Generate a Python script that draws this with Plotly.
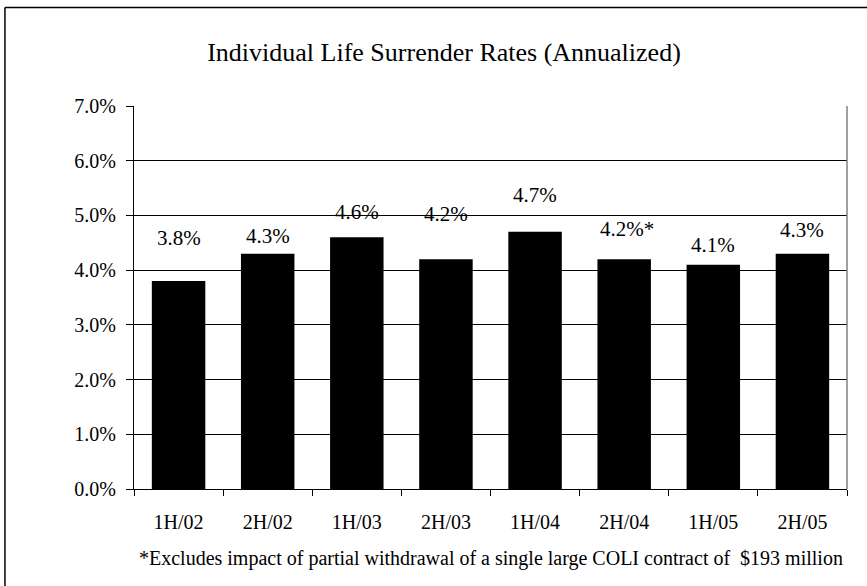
import plotly.graph_objects as go

# dados do gráfico
periodos = ['1H/02', '2H/02', '1H/03', '2H/03', '1H/04', '2H/04', '1H/05', '2H/05']
taxas = [3.8, 4.3, 4.6, 4.2, 4.7, 4.2, 4.1, 4.3]
rotulos = ['3.8%', '4.3%', '4.6%', '4.2%', '4.7%', '4.2%*', '4.1%', '4.3%']
y_ticks = [0, 1, 2, 3, 4, 5, 6, 7]
y_tick_text = ['0.0%', '1.0%', '2.0%', '3.0%', '4.0%', '5.0%', '6.0%', '7.0%']

# deslocamento (px) dos rótulos acima das barras, como no original
desloc_rotulos = [43, 18, 25, 45, 37, 30, 20, 24]
desloc_x = [0, 0, 0, 0, 0, 3, 0, 0]

fonte = 'Liberation Serif, Times New Roman, serif'

fig = go.Figure()
fig.add_trace(go.Bar(x=periodos, y=taxas, marker=dict(color='black', line=dict(width=0)),
                     hoverinfo='skip'))

for p, v, r, d, dx in zip(periodos, taxas, rotulos, desloc_rotulos, desloc_x):
    fig.add_annotation(x=p, y=v, text=r, showarrow=False, yanchor='middle',
                       yshift=d, xshift=dx, font=dict(family=fonte, size=21, color='black'))

fig.add_annotation(text='*Excludes impact of partial withdrawal of a single large COLI contract of  $193 million',
                   xref='paper', yref='paper', x=0.5, y=-0.181, showarrow=False,
                   yanchor='middle', font=dict(family=fonte, size=20, color='black'))

# borda externa (só esquerda e topo visíveis)
fig.add_shape(type='line', xref='paper', yref='paper', x0=-0.181, x1=-0.181, y0=-0.26, y1=1.257,
              line=dict(color='black', width=1.5))
fig.add_shape(type='line', xref='paper', yref='paper', x0=-0.181, x1=1.03, y0=1.257, y1=1.257,
              line=dict(color='black', width=1.5))
# borda direita da área do gráfico
fig.add_shape(type='line', xref='paper', yref='paper', x0=1, x1=1, y0=0, y1=1,
              line=dict(color='#808080', width=1.5))

fig.update_layout(
    width=867, height=586,
    margin=dict(l=134, r=20, t=106, b=97),
    paper_bgcolor='white', plot_bgcolor='white',
    showlegend=False, bargap=0.4,
    title=dict(text='Individual Life Surrender Rates (Annualized)', x=444 / 867, xanchor='center',
               y=1 - 52 / 586, yanchor='middle', font=dict(family=fonte, size=26, color='black')),
    font=dict(family=fonte, color='black'),
)
fig.update_xaxes(type='category', tickson='boundaries', ticks='outside', ticklen=6, tickcolor='black',
                 showline=True, linecolor='black', linewidth=1, showgrid=False,
                 tickfont=dict(family=fonte, size=20, color='black'), ticklabelstandoff=15)
fig.update_yaxes(range=[0, 7], tickvals=y_ticks, ticktext=y_tick_text, ticks='outside', ticklen=7,
                 tickcolor='black', showline=True, linecolor='black', linewidth=1,
                 showgrid=True, gridcolor='black', gridwidth=1, zeroline=False,
                 tickfont=dict(family=fonte, size=20, color='black'), ticklabelstandoff=6)

fig.write_html('out.html', config={'displayModeBar': False},
               post_script="document.body.style.margin='0';")
